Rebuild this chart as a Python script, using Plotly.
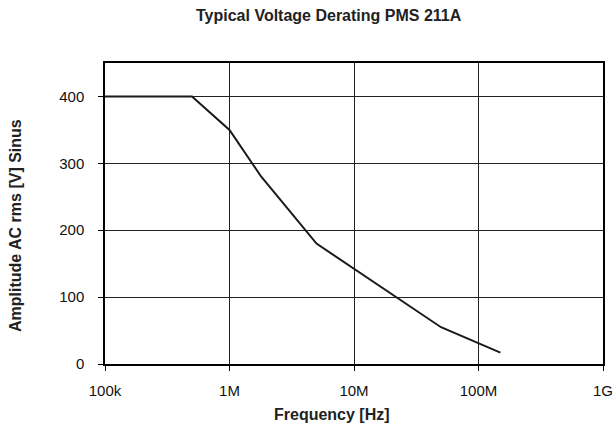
import plotly.graph_objects as go

freq_hz = [1e5, 5e5, 1e6, 1.8e6, 5e6, 5e7, 1.5e8]
amplitude_v = [400, 400, 350, 280, 180, 55, 17]

x_tickvals = [1e5, 1e6, 1e7, 1e8, 1e9]
x_ticktext = ["100k", "1M", "10M", "100M", "1G"]
y_tickvals = [0, 100, 200, 300, 400]

title_text = "Typical Voltage Derating PMS 211A"
x_title = "Frequency [Hz]"
y_title = "Amplitude AC rms [V] Sinus"

font = "Liberation Sans, Arial, sans-serif"

fig = go.Figure()
fig.add_trace(go.Scatter(
    x=freq_hz, y=amplitude_v, mode="lines",
    line=dict(color="#1a1a1a", width=2),
    showlegend=False, hoverinfo="skip",
))

fig.update_layout(
    width=614, height=430,
    paper_bgcolor="white", plot_bgcolor="white",
    margin=dict(l=105, r=11, t=63, b=66, autoexpand=False),
    font=dict(family=font, color="#000"),
    annotations=[
        dict(text="<b>" + title_text + "</b>", xref="paper", yref="paper",
             x=(329 - 105) / 498, y=1 + (63 - 16) / 301, xanchor="center", yanchor="middle",
             showarrow=False, font=dict(size=16, color="#222")),
        dict(text="<b>" + x_title + "</b>", xref="paper", yref="paper",
             x=(332 - 105) / 498, y=-(414 - 364) / 301, xanchor="center", yanchor="middle",
             showarrow=False, font=dict(size=16, color="#222")),
        dict(text="<b>" + y_title + "</b>", xref="paper", yref="paper",
             x=-(105 - 15) / 498, y=(364 - 226) / 301, xanchor="center", yanchor="middle",
             textangle=-90, showarrow=False, font=dict(size=16, color="#222")),
    ],
)
fig.update_xaxes(
    type="log", range=[5, 9], automargin=False,
    tickvals=x_tickvals, ticktext=x_ticktext,
    tickfont=dict(size=15, color="#111"),
    ticks="outside", ticklen=5, tickcolor="#000", ticklabelstandoff=7,
    showgrid=True, gridcolor="#222", gridwidth=1,
    showline=True, linecolor="#000", linewidth=2, mirror=True,
    zeroline=False,
)
fig.update_yaxes(
    range=[0, 450], automargin=False,
    tickvals=y_tickvals,
    tickfont=dict(size=15, color="#111"),
    ticks="outside", ticklen=5, tickcolor="#000", ticklabelstandoff=11,
    showgrid=True, gridcolor="#222", gridwidth=1,
    showline=True, linecolor="#000", linewidth=1.5, mirror=True,
    zeroline=False,
)

fig.write_html("out.html", config={"displayModeBar": False},
               post_script="document.body.style.margin='0';")
